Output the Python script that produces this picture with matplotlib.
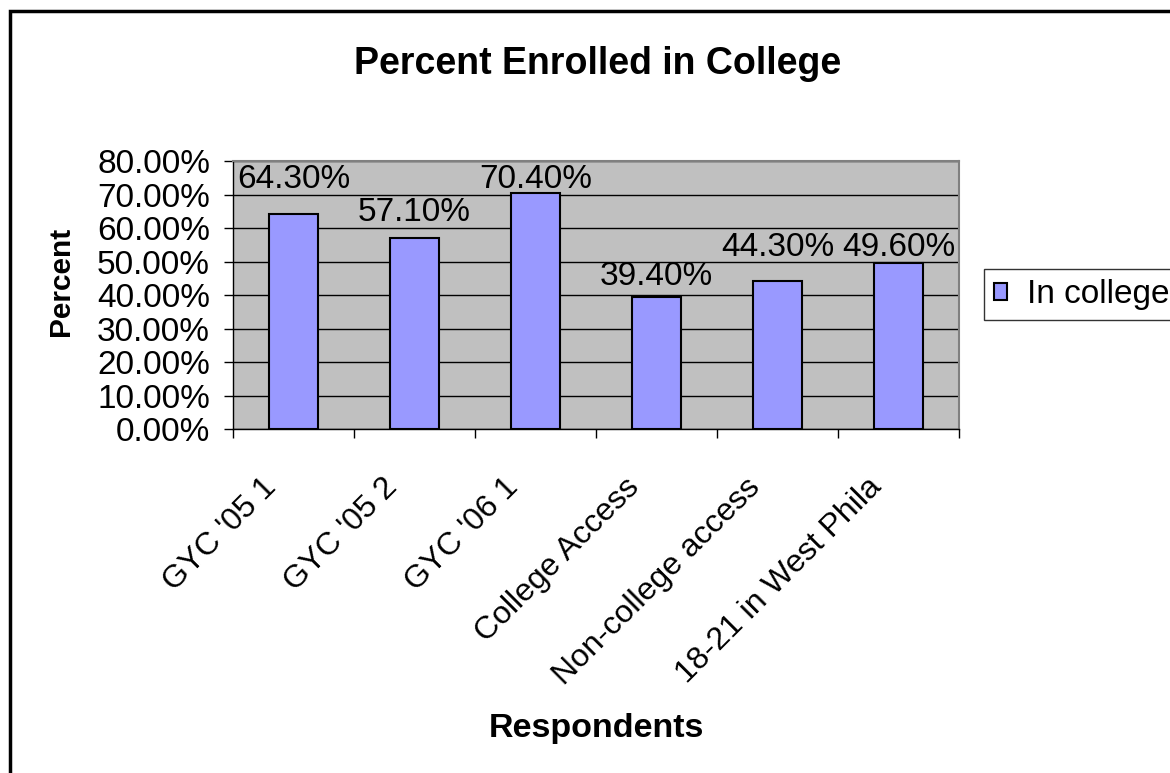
import matplotlib
matplotlib.use("Agg")
import matplotlib.pyplot as plt
from matplotlib.patches import Rectangle
from matplotlib.ticker import PercentFormatter, FixedLocator, NullFormatter
from matplotlib.transforms import ScaledTranslation

plt.rcParams['font.family'] = ['Liberation Sans', 'DejaVu Sans']

categories = ["GYC '05 1", "GYC '05 2", "GYC '06 1", "College Access",
              "Non-college access", "18-21 in West Phila"]
in_college = [0.643, 0.571, 0.704, 0.394, 0.443, 0.496]
value_labels = ["64.30%", "57.10%", "70.40%", "39.40%", "44.30%", "49.60%"]
# where Excel put the data labels (centre height, data units)
label_heights = [0.746, 0.647, 0.746, 0.455, 0.542, 0.542]

fig = plt.figure(figsize=(11.7, 7.73), dpi=100)
fig.patch.set_facecolor('white')
ax = fig.add_axes([0.1991, 0.445, 0.6205, 0.3467])
ax.set_facecolor('#C0C0C0')

x = list(range(len(categories)))
bars = ax.bar(x, in_college, width=0.4, color='#9999FF', edgecolor='black',
              linewidth=1.5, label='In college', zorder=3)

for xi, lab, h in zip(x, value_labels, label_heights):
    ax.text(xi, h, lab, ha='center', va='center', fontsize=24, zorder=4)

ax.set_xlim(-0.5, len(categories) - 0.5)
ax.set_ylim(0, 0.8)
ax.set_yticks([i / 10 for i in range(9)])
ax.yaxis.set_major_formatter(PercentFormatter(xmax=1, decimals=2))
ax.grid(axis='y', color='black', linewidth=1, zorder=1)
ax.set_axisbelow(True)

# category labels, rotated like Excel's, ending just left of the category centre
ax.set_xticks(x)
ax.xaxis.set_major_formatter(NullFormatter())
lab_shift = ScaledTranslation(-23 / 72, -31 / 72, fig.dpi_scale_trans)
for xi, name in zip(x, categories):
    ax.text(xi, 0, name, rotation=45, ha='right', va='top',
            rotation_mode='anchor', fontsize=23,
            transform=ax.get_xaxis_transform() + lab_shift)
ax.xaxis.set_minor_locator(FixedLocator([i - 0.5 for i in range(len(categories) + 1)]))
ax.tick_params(axis='x', which='major', length=0)
ax.tick_params(axis='x', which='minor', length=6.5, width=1, direction='out')
ax.tick_params(axis='y', length=6.5, width=1, direction='out', labelsize=24, pad=10)

for side in ['top', 'right']:
    ax.spines[side].set_color('#808080')
    ax.spines[side].set_linewidth(1.5)
for side in ['left', 'bottom']:
    ax.spines[side].set_color('black')
    ax.spines[side].set_linewidth(1)

ax.set_ylabel('Percent', fontsize=21.5, fontweight='bold')
ax.set_xlabel('Respondents', fontsize=24.5, fontweight='bold')
ax.yaxis.set_label_coords(-0.218, 0.55)
ax.xaxis.set_label_coords(0.5, -1.06)

fig.text(0.511, 1 - 64 / 773, 'Percent Enrolled in College', ha='center',
         va='center', fontsize=27, fontweight='bold')

leg = fig.legend(loc='upper left', bbox_to_anchor=(984 / 1170, 1 - 269 / 773),
                 fontsize=24, frameon=True, fancybox=False, borderpad=0.3,
                 handlelength=0.4, handleheight=0.4, handletextpad=0.6,
                 borderaxespad=0)
leg.get_frame().set_edgecolor('black')
leg.get_frame().set_linewidth(1)

fig.patches.append(Rectangle((10 / 1170, -0.1), 1.2, 1 - 11 / 773 + 0.1,
                             transform=fig.transFigure, fill=False,
                             edgecolor='black', linewidth=2.5))

fig.savefig('out.png', dpi=100)
